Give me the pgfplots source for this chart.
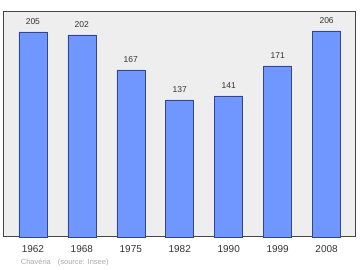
\documentclass[border=0pt]{standalone}
\usepackage{fontspec}
\setmainfont{Liberation Sans}
\setsansfont{Liberation Sans}
\usepackage{pgfplots}
\pgfplotsset{compat=1.18}
\definecolor{barfill}{RGB}{112,150,255}
\definecolor{barline}{RGB}{50,70,140}
\definecolor{bg}{RGB}{238,238,238}
\definecolor{frame}{RGB}{70,70,70}
\definecolor{foot}{RGB}{170,170,170}
\begin{document}
\begin{tikzpicture}
\begin{axis}[
  scale only axis,
  width=352.5pt, height=225pt,
  xmin=-0.6, xmax=6.6,
  ymin=0, ymax=225,
  axis background/.style={fill=bg},
  axis line style={frame, line width=1pt},
  xtick={0,1,2,3,4,5,6},
  xticklabels={1962,1968,1975,1982,1990,1999,2008},
  ytick=\empty,
  major tick length=0pt,
  tick label style={font=\fontsize{10}{12}\selectfont, text=black!80},
  xticklabel style={yshift=-5pt},
  /pgf/number format/assume math mode=true,
  clip=false,
]
\addplot[ybar, bar width=28pt, fill=barfill, draw=barline, line width=0.5pt,
  nodes near coords,
  every node near coord/.append style={font=\fontsize{8.5}{10}\selectfont, text=black!80, yshift=4pt},
] coordinates {(0,205) (1,202) (2,167) (3,137) (4,141) (5,171) (6,206)};
\node[anchor=base west, font=\fontsize{7.5}{9}\selectfont, text=foot, inner sep=0pt]
  at (axis cs:-0.25,-27.5) {Chavéria\hspace{7pt}(source: Insee)};
\end{axis}
\path (-3.5pt,-33pt) rectangle (356.5pt,237pt);
\end{tikzpicture}
\end{document}
